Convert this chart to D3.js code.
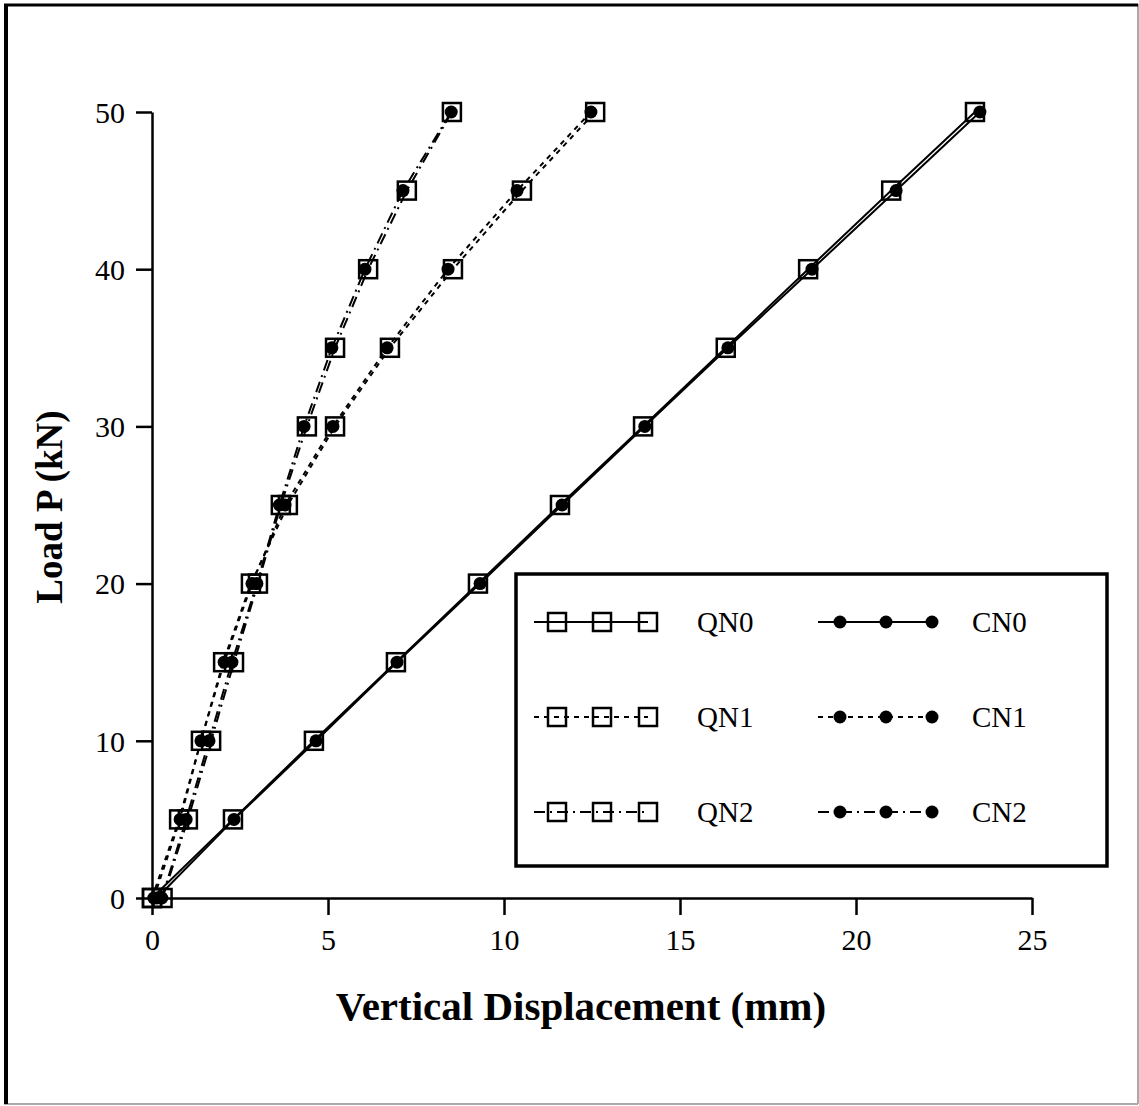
<!DOCTYPE html>
<html>
<head>
<meta charset="utf-8">
<script src="https://cdn.jsdelivr.net/npm/d3@7"></script>
<style>
  html, body { margin: 0; padding: 0; background: #fff; }
  svg { display: block; }
</style>
</head>
<body>
<div id="chart"></div>
<script>
// load steps (kN)
const loads = [0, 5, 10, 15, 20, 25, 30, 35, 40, 45, 50];

// vertical displacement (mm)
const qn0 = [0.0, 2.30, 4.60, 6.93, 9.26, 11.59, 13.95, 16.30, 18.64, 21.00, 23.38];
const cn0 = [0.14, 2.33, 4.66, 6.96, 9.32, 11.65, 14.00, 16.36, 18.75, 21.14, 23.52];
const qn1 = [0.0, 0.77, 1.39, 2.02, 2.81, 3.86, 5.20, 6.76, 8.55, 10.51, 12.59];
const cn1 = [0.05, 0.80, 1.39, 2.05, 2.84, 3.78, 5.14, 6.68, 8.41, 10.37, 12.47];
const qn2 = [0.30, 1.02, 1.68, 2.33, 3.01, 3.66, 4.40, 5.20, 6.14, 7.24, 8.52];
const cn2 = [0.28, 0.97, 1.62, 2.27, 2.98, 3.62, 4.32, 5.11, 6.05, 7.13, 8.50];

const xTicks = [0, 5, 10, 15, 20, 25];
const yTicks = [0, 10, 20, 30, 40, 50];

const series = [
  { name: 'QN0', values: qn0, marker: 'square', dash: null },
  { name: 'CN0', values: cn0, marker: 'dot', dash: null },
  { name: 'QN1', values: qn1, marker: 'square', dash: '5,5' },
  { name: 'CN1', values: cn1, marker: 'dot', dash: '5,5' },
  { name: 'QN2', values: qn2, marker: 'square', dash: '11,5,2,5' },
  { name: 'CN2', values: cn2, marker: 'dot', dash: '11,5,2,5' }
];

const width = 1139, height = 1106;
const font = '"Liberation Serif", "Times New Roman", serif';

const svg = d3.select('#chart').append('svg')
  .attr('width', width).attr('height', height);

// outer frame
svg.append('rect').attr('width', width).attr('height', height).attr('fill', '#fff');
svg.append('line').attr('x1', 1138).attr('x2', 1138).attr('y1', 4).attr('y2', 1104)
  .attr('stroke', '#aaa').attr('stroke-width', 2);
svg.append('line').attr('x1', 4).attr('x2', 1138).attr('y1', 1104).attr('y2', 1104)
  .attr('stroke', '#aaa').attr('stroke-width', 2);
svg.append('line').attr('x1', 6).attr('x2', 6).attr('y1', 4).attr('y2', 1104)
  .attr('stroke', '#000').attr('stroke-width', 4);
svg.append('line').attr('x1', 4).attr('x2', 1138).attr('y1', 5).attr('y2', 5)
  .attr('stroke', '#000').attr('stroke-width', 3);

const x = d3.scaleLinear().domain([0, 25]).range([152, 1032]);
const y = d3.scaleLinear().domain([0, 50]).range([898, 112]);

// axes
const xAxis = svg.append('g').attr('transform', `translate(0,${y(0)})`)
  .call(d3.axisBottom(x).tickValues(xTicks).tickSize(17).tickSizeOuter(0).tickPadding(14));
const yAxis = svg.append('g').attr('transform', `translate(${x(0)},0)`)
  .call(d3.axisLeft(y).tickValues(yTicks).tickSize(16).tickSizeOuter(0).tickPadding(11));

[xAxis, yAxis].forEach(a => {
  a.select('.domain').attr('stroke', '#000').attr('stroke-width', 2.5);
  a.selectAll('.tick line').attr('stroke', '#000').attr('stroke-width', 2.5);
  a.selectAll('.tick text').attr('fill', '#000')
    .style('font-family', font).style('font-size', '30px');
});
yAxis.selectAll('.tick text').attr('dy', '0.34em');

// axis titles
svg.append('text').attr('x', 581).attr('y', 1020).attr('text-anchor', 'middle')
  .style('font-family', font).style('font-size', '41px').style('font-weight', 'bold')
  .text('Vertical Displacement (mm)');
svg.append('text').attr('transform', 'translate(62,507) rotate(-90)').attr('text-anchor', 'middle')
  .style('font-family', font).style('font-size', '37px').style('font-weight', 'bold')
  .text('Load P (kN)');

// lines and markers
const line = d3.line().x(d => x(d[0])).y(d => y(d[1]));
const sq = 18, dotR = 6.5;

function drawMarker(g, marker, cx, cy) {
  if (marker === 'square') {
    g.append('rect').attr('x', cx - sq / 2).attr('y', cy - sq / 2)
      .attr('width', sq).attr('height', sq)
      .attr('fill', 'none').attr('stroke', '#000').attr('stroke-width', 2.5);
  } else {
    g.append('circle').attr('cx', cx).attr('cy', cy).attr('r', dotR).attr('fill', '#000');
  }
}

series.forEach(s => {
  const pts = s.values.map((v, i) => [v, loads[i]]);
  const g = svg.append('g');
  g.append('path').datum(pts).attr('d', line)
    .attr('fill', 'none').attr('stroke', '#000').attr('stroke-width', 2)
    .attr('stroke-dasharray', s.dash);
  pts.forEach(p => drawMarker(g, s.marker, x(p[0]), y(p[1])));
});

// legend
const legend = svg.append('g');
legend.append('rect').attr('x', 516).attr('y', 574).attr('width', 591).attr('height', 292)
  .attr('fill', '#fff').attr('stroke', '#000').attr('stroke-width', 3.5);

const rowY = [622, 717, 812];
const cols = [
  { x0: 534, marks: [557, 602, 648], labelX: 697 },
  { x0: 818, marks: [840, 886, 932], labelX: 972 }
];
series.forEach((s, i) => {
  const c = cols[i % 2];
  const ry = rowY[Math.floor(i / 2)];
  const g = legend.append('g');
  g.append('line').attr('x1', c.x0).attr('x2', c.marks[2]).attr('y1', ry).attr('y2', ry)
    .attr('stroke', '#000').attr('stroke-width', 2).attr('stroke-dasharray', s.dash);
  c.marks.forEach(mx => drawMarker(g, s.marker, mx, ry));
  g.append('text').attr('x', c.labelX).attr('y', ry + 10)
    .style('font-family', font).style('font-size', '29px').text(s.name);
});
</script>
</body>
</html>
